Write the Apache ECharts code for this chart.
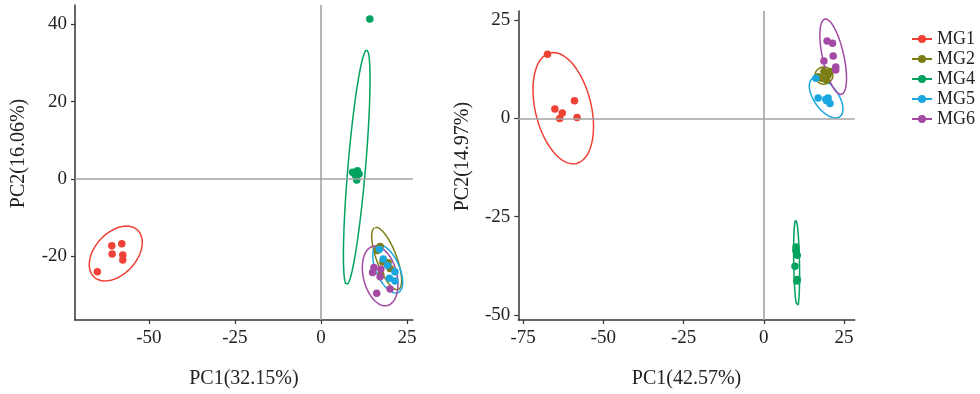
<!DOCTYPE html>
<html>
<head>
<meta charset="utf-8">
<script src="https://cdn.jsdelivr.net/npm/echarts@6/dist/echarts.min.js"></script>
<style>html,body{margin:0;padding:0;background:#fff}#c{width:980px;height:394px}</style>
</head>
<body>
<div id="c"></div>
<script>
// ---- DATA ----
const groups = ['MG1', 'MG2', 'MG4', 'MG5', 'MG6'];
const colors = ['#EF4136', '#7D7D17', '#00A25F', '#1AA7DF', '#A54AA4'];

// Left panel PCA scores [PC1, PC2]
const leftMG1 = [[-60.8,-17.3],[-57.9,-16.8],[-60.7,-19.4],[-57.6,-19.7],[-57.6,-21.0],[-65.0,-24.0]];
const leftMG2 = [[17.2,-17.5],[16.4,-18.5],[19.5,-21.7],[18.0,-21.5],[20.1,-23.2],[17.4,-24.8]];
const leftMG4 = [[9.2,1.7],[10.6,2.1],[10.4,-0.3],[11.1,1.3],[10.0,1.0],[14.2,41.4]];
const leftMG5 = [[17.0,-18.2],[18.1,-20.7],[19.4,-22.4],[21.5,-24.0],[19.9,-25.7],[21.5,-26.4]];
const leftMG6 = [[15.4,-22.9],[15.0,-24.2],[17.4,-23.4],[17.2,-25.3],[16.2,-29.6],[20.1,-28.5]];

// Right panel PCA scores [PC1, PC2]
const rightMG1 = [[-67.4,16.3],[-65.1,2.4],[-62.8,1.4],[-63.6,0.0],[-59.0,4.5],[-58.2,0.25]];
const rightMG2 = [[18.7,11.9],[20.0,11.0],[18.0,10.2],[19.5,9.7],[16.9,10.6],[20.6,11.9]];
const rightMG4 = [[10.0,-32.7],[10.0,-33.6],[10.4,-34.8],[9.7,-37.6],[10.4,-41.0],[10.3,-41.4]];
const rightMG5 = [[16.2,10.2],[16.9,5.2],[19.3,4.9],[20.0,5.2],[20.6,3.8],[19.6,4.5]];
const rightMG6 = [[19.7,19.7],[21.4,19.1],[21.6,15.9],[18.7,14.6],[22.4,13.1],[22.4,12.3]];

// Confidence ellipses: [centerX, centerY, semiAxisA_x, semiAxisA_y, semiAxisB_x, semiAxisB_y]
const leftEllMG1 = [-59.65,-19.3, 6.28,6.11, 4.48,-3.62];
const leftEllMG2 = [19.1,-20.6, -3.40,8.05, 2.72,0.91];
const leftEllMG4 = [10.4,3.0, 2.91,30.4, 2.55,-0.19];
const leftEllMG5 = [19.4,-23.3, -3.05,6.13, 3.11,1.22];
const leftEllMG6 = [17.2,-25.1, -2.09,7.68, 4.74,1.01];
const rightEllMG1 = [-62.5,2.6, -4.14,14.07, 8.47,1.67];
const rightEllMG2 = [18.7,10.9, 2.8,0, 0,2.2];
const rightEllMG4 = [10.2,-36.9, -0.25,11.0, 0.9,0.02];
const rightEllMG5 = [19.4,5.3, 4.27,-4.89, -3.05,-1.78];
const rightEllMG6 = [21.6,15.7, -2.59,9.59, 3.24,0.58];

// Axis ticks & titles
const leftXTicks = [-50, -25, 0, 25];
const leftYTicks = [-20, 0, 20, 40];
const rightXTicks = [-75, -50, -25, 0, 25];
const rightYTicks = [-50, -25, 0, 25];
const leftXName = 'PC1(32.15%)', leftYName = 'PC2(16.06%)';
const rightXName = 'PC1(42.57%)', rightYName = 'PC2(14.97%)';

// ---- BUILD ----
const leftPts = [leftMG1, leftMG2, leftMG4, leftMG5, leftMG6];
const rightPts = [rightMG1, rightMG2, rightMG4, rightMG5, rightMG6];
const leftEll = [leftEllMG1, leftEllMG2, leftEllMG4, leftEllMG5, leftEllMG6];
const rightEll = [rightEllMG1, rightEllMG2, rightEllMG4, rightEllMG5, rightEllMG6];

function ellipseOutline(p) {
  const out = [];
  const n = 90;
  for (let i = 0; i <= n; i++) {
    const t = 2 * Math.PI * i / n;
    out.push([p[0] + Math.cos(t) * p[2] + Math.sin(t) * p[4],
              p[1] + Math.cos(t) * p[3] + Math.sin(t) * p[5]]);
  }
  return out;
}

const FONT = 'Liberation Serif';
const txt = { fontFamily: FONT, fontSize: 19, color: '#222' };
const axLine = { lineStyle: { color: '#333', width: 1.5 }, onZero: false };

function xAxis(gi, min, max, ticks, name) {
  return {
    gridIndex: gi, type: 'value', min, max,
    splitLine: { show: false },
    axisLine: axLine,
    axisTick: { length: 4, customValues: ticks, lineStyle: { color: '#333', width: 1.2 } },
    axisLabel: Object.assign({ customValues: ticks, margin: 9 }, txt),
    name, nameLocation: 'middle', nameGap: 49,
    nameTextStyle: { fontFamily: FONT, fontSize: 20, color: '#222' }
  };
}
function yAxis(gi, min, max, ticks, name) {
  return {
    gridIndex: gi, type: 'value', min, max,
    splitLine: { show: false },
    axisLine: axLine,
    axisTick: { length: 4, customValues: ticks, lineStyle: { color: '#333', width: 1.2 } },
    axisLabel: Object.assign({ customValues: ticks, margin: 8 }, txt),
    name, nameLocation: 'middle', nameGap: 46,
    nameTextStyle: { fontFamily: FONT, fontSize: 20, color: '#222', padding: [0, 0, 0, 18] }
  };
}

const series = [];
[[leftPts, leftEll, 0], [rightPts, rightEll, 1]].forEach(([pts, ells, gi]) => {
  groups.forEach((g, k) => {
    series.push({
      name: g, type: 'line', xAxisIndex: gi, yAxisIndex: gi,
      data: ellipseOutline(ells[k]), showSymbol: false, symbol: 'circle', symbolSize: 7,
      lineStyle: { color: colors[k], width: 1.5 }, itemStyle: { color: colors[k] },
      silent: true, z: 3, animation: false
    });
  });
  groups.forEach((g, k) => {
    const s = {
      name: g, type: 'scatter', xAxisIndex: gi, yAxisIndex: gi,
      data: pts[k], symbolSize: 7.5, itemStyle: { color: colors[k], opacity: 1 },
      z: 4, animation: false
    };
    if (k === 0) {
      s.markLine = {
        silent: true, symbol: 'none', animation: false,
        label: { show: false },
        lineStyle: { color: '#a3a3a3', width: 1.6, type: 'solid' },
        data: [{ xAxis: 0 }, { yAxis: 0 }]
      };
    }
    series.push(s);
  });
});

const chart = echarts.init(document.getElementById('c'), null, { renderer: 'canvas' });
chart.setOption({
  backgroundColor: '#ffffff',
  animation: false,
  grid: [
    { left: 75, right: 567.2, top: 5, bottom: 74 },
    { left: 518.3, right: 125.3, top: 11.1, bottom: 74 }
  ],
  xAxis: [
    xAxis(0, -71.5, 26.7, leftXTicks, leftXName),
    xAxis(1, -76.5, 28.3, rightXTicks, rightXName)
  ],
  yAxis: [
    yAxis(0, -36.5, 45, leftYTicks, leftYName),
    yAxis(1, -51.3, 27.3, rightYTicks, rightYName)
  ],
  legend: {
    orient: 'vertical', left: 906, top: 25,
    itemWidth: 20, itemHeight: 10, itemGap: 2,
    data: groups,
    textStyle: { fontFamily: FONT, fontSize: 18, color: '#222' }
  },
  series
});
</script>
</body>
</html>
